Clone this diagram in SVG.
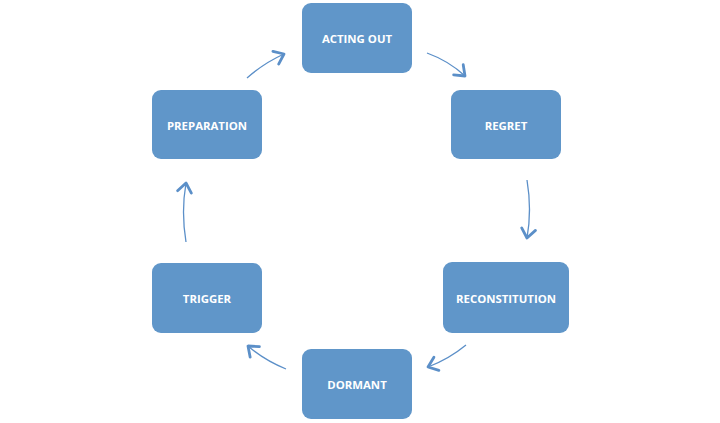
<svg xmlns="http://www.w3.org/2000/svg" width="720" height="423" viewBox="0 0 720 423">
<style>
.box{fill:#6096c9;}
.lbl{fill:#ffffff;font-family:"Open Sans","Liberation Sans",sans-serif;font-weight:bold;font-size:11.4px;text-anchor:middle;dominant-baseline:central;}
.arr{fill:none;stroke:#5b8fc8;stroke-width:1.3;marker-end:url(#head);}
</style>
<defs>
<marker id="head" markerUnits="userSpaceOnUse" markerWidth="20" markerHeight="20" viewBox="-12 -10 16 20" refX="0" refY="0" orient="auto">
<path d="M-9,-7 L0,0 L-9,7" fill="none" stroke="#5b8fc8" stroke-width="2.8" stroke-linecap="round" stroke-linejoin="round"/>
</marker>
</defs>
<rect width="720" height="423" fill="#ffffff"/>
<g id="connectors">
<path class="arr" d="M247,78 Q264,63 284,54"/>
<path class="arr" d="M427,53 Q449,61 465,76"/>
<path class="arr" d="M527,180 Q532,210 527,238"/>
<path class="arr" d="M466,345 Q449,359 428,367"/>
<path class="arr" d="M286,369 Q264,360 248,346"/>
<path class="arr" d="M186,242 Q181,212 186,183"/>
</g>
<g id="acting-out"><rect class="box" x="302" y="3" width="110" height="70" rx="9"/><text class="lbl" x="357" y="38">ACTING OUT</text></g>
<g id="regret"><rect class="box" x="451" y="90" width="110" height="69" rx="9"/><text class="lbl" x="506" y="125">REGRET</text></g>
<g id="reconstitution"><rect class="box" x="443" y="262" width="126" height="71" rx="9"/><text class="lbl" x="506" y="298">RECONSTITUTION</text></g>
<g id="dormant"><rect class="box" x="302" y="349" width="110" height="70" rx="9"/><text class="lbl" x="357" y="384">DORMANT</text></g>
<g id="trigger"><rect class="box" x="152" y="263" width="110" height="70" rx="9"/><text class="lbl" x="207" y="298">TRIGGER</text></g>
<g id="preparation"><rect class="box" x="152" y="90" width="110" height="69" rx="9"/><text class="lbl" x="207" y="125">PREPARATION</text></g>
</svg>
